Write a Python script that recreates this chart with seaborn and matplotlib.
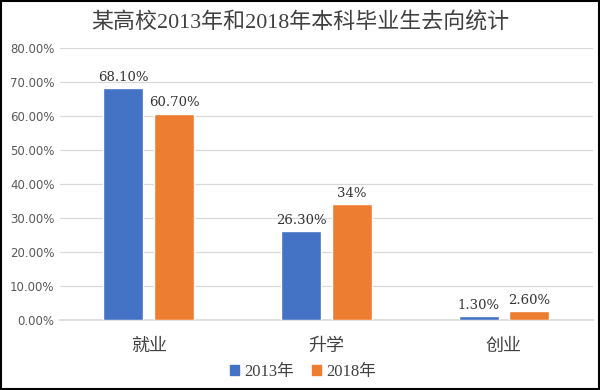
import pandas as pd
import numpy as np
import matplotlib
matplotlib.use("Agg")
import matplotlib.pyplot as plt
import seaborn as sns
from matplotlib.patches import Rectangle

# Data
categories = ["就业", "升学", "创业"]
years = ["2013年", "2018年"]
values_2013 = [68.1, 26.3, 1.3]
values_2018 = [60.7, 34.0, 2.6]
labels_2013 = ["68.10%", "26.30%", "1.30%"]
labels_2018 = ["60.70%", "34%", "2.60%"]
yticks = [0, 10, 20, 30, 40, 50, 60, 70, 80]

df = pd.DataFrame({
    "category": categories * 2,
    "year": [years[0]] * 3 + [years[1]] * 3,
    "value": values_2013 + values_2018,
})

sns.set_theme(style="white")
plt.rcParams["font.family"] = ["Liberation Serif", "Noto Sans CJK SC", "DejaVu Sans"]

fig = plt.figure(figsize=(6, 3.9), dpi=100)
ax = fig.add_axes([0.1, 0.179, 0.888, 0.698])

palette = {years[0]: "#4472C4", years[1]: "#ED7D31"}
sns.barplot(data=df, x="category", y="value", hue="year", order=categories,
            hue_order=years, palette=palette, width=0.57, gap=0.21,
            saturation=1, ax=ax, legend=False, zorder=3)

# value labels on top of the bars
for container, labels in zip(ax.containers, [labels_2013, labels_2018]):
    ax.bar_label(container, labels=labels, padding=3, fontsize=9.5,
                 color="#333333", family=["DejaVu Serif", "Noto Sans CJK SC"])

ax.set_xlim(-0.5, 2.5)
ax.set_ylim(0, 80)
ax.set_yticks(yticks)
ax.set_yticklabels([f"{v:.2f}%" for v in yticks], fontsize=8.5, color="#595959",
                   family=["DejaVu Sans"])
ax.set_xticks(range(len(categories)))
ax.set_xticklabels(categories, fontsize=13, color="#404040",
                   family=["Noto Sans CJK SC"])
ax.tick_params(axis="both", length=0, pad=4)
ax.tick_params(axis="x", pad=12)
ax.set_xlabel("")
ax.set_ylabel("")
ax.grid(axis="y", color="#D9D9D9", linewidth=0.9, zorder=0)
for side in ["top", "right", "left"]:
    ax.spines[side].set_visible(False)
ax.spines["bottom"].set_color("#D9D9D9")

# legend at the bottom
handles = [Rectangle((0, 0), 1, 1, color=palette[y]) for y in years]
fig.legend(handles, years, loc="center", bbox_to_anchor=(0.505, 0.047), ncol=2,
           frameon=False, fontsize=12, handlelength=0.55, handleheight=0.55,
           handletextpad=0.3, columnspacing=1.1, labelcolor="#404040")

fig.text(0.5, 0.94, "某高校2013年和2018年本科毕业生去向统计", ha="center", va="center",
         fontsize=15.8, color="#404040")

# thin black frame around the whole picture
fig.patches.append(Rectangle((0.002, 0.003), 0.996, 0.994, transform=fig.transFigure,
                             fill=False, edgecolor="black", linewidth=1.5))

fig.savefig("out.png", dpi=100)
